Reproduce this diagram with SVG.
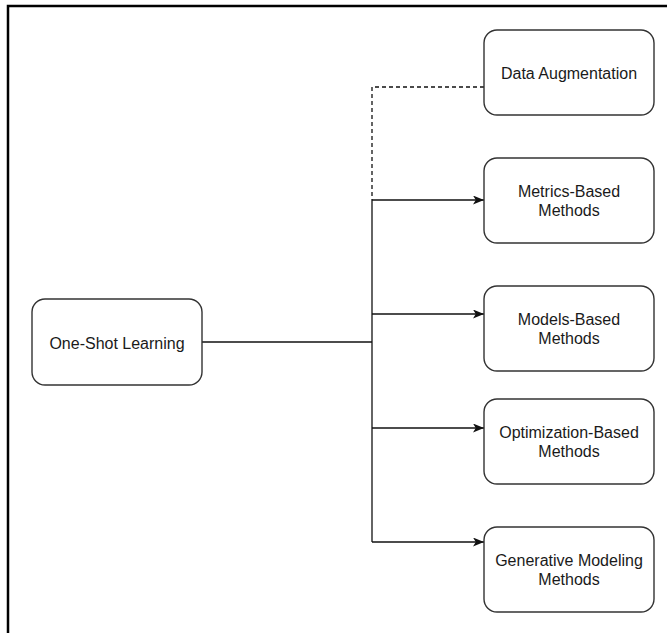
<svg xmlns="http://www.w3.org/2000/svg" width="667" height="633" viewBox="0 0 667 633">
<defs>
<style>
.node rect{fill:#fff;stroke:#333;stroke-width:1.4}
.node text{font-family:"Liberation Sans",Arial,sans-serif;font-size:16px;fill:#1a1a1a;text-anchor:middle}
.conn{fill:none;stroke:#111;stroke-width:1.3}
.dash{stroke-dasharray:4 3}
.frame{stroke:#000;stroke-width:2.5;fill:none}
</style>
<marker id="arr" viewBox="0 0 11 9" refX="11" refY="4.5" markerWidth="11" markerHeight="9" markerUnits="userSpaceOnUse" orient="auto">
<path d="M0,0 L11,4.5 L0,9 L2.8,4.5 Z" fill="#111"/>
</marker>
</defs>
<rect width="667" height="633" fill="#fff"/>
<path class="frame" d="M8,633 V6 H667"/>
<g id="connectors">
<path class="conn" d="M202,342 H372"/>
<path class="conn" d="M372,200 V542"/>
<path class="conn dash" d="M484,87 H372 V200"/>
<path class="conn" d="M372,200 H484" marker-end="url(#arr)"/>
<path class="conn" d="M372,314 H484" marker-end="url(#arr)"/>
<path class="conn" d="M372,428 H484" marker-end="url(#arr)"/>
<path class="conn" d="M372,542 H484" marker-end="url(#arr)"/>
</g>
<g id="one-shot" class="node">
<rect x="32" y="299" width="170" height="86" rx="13"/>
<text x="117" y="349">One-Shot Learning</text>
</g>
<g id="data-aug" class="node">
<rect x="484" y="30" width="170" height="85" rx="13"/>
<text x="569" y="79">Data Augmentation</text>
</g>
<g id="metrics" class="node">
<rect x="484" y="158" width="170" height="85" rx="13"/>
<text x="569" y="197">Metrics-Based</text>
<text x="569" y="216">Methods</text>
</g>
<g id="models" class="node">
<rect x="484" y="286" width="170" height="85" rx="13"/>
<text x="569" y="325">Models-Based</text>
<text x="569" y="344">Methods</text>
</g>
<g id="optimization" class="node">
<rect x="484" y="399" width="170" height="85" rx="13"/>
<text x="569" y="438">Optimization-Based</text>
<text x="569" y="457">Methods</text>
</g>
<g id="generative" class="node">
<rect x="484" y="527" width="170" height="85" rx="13"/>
<text x="569" y="566">Generative Modeling</text>
<text x="569" y="585">Methods</text>
</g>
</svg>
